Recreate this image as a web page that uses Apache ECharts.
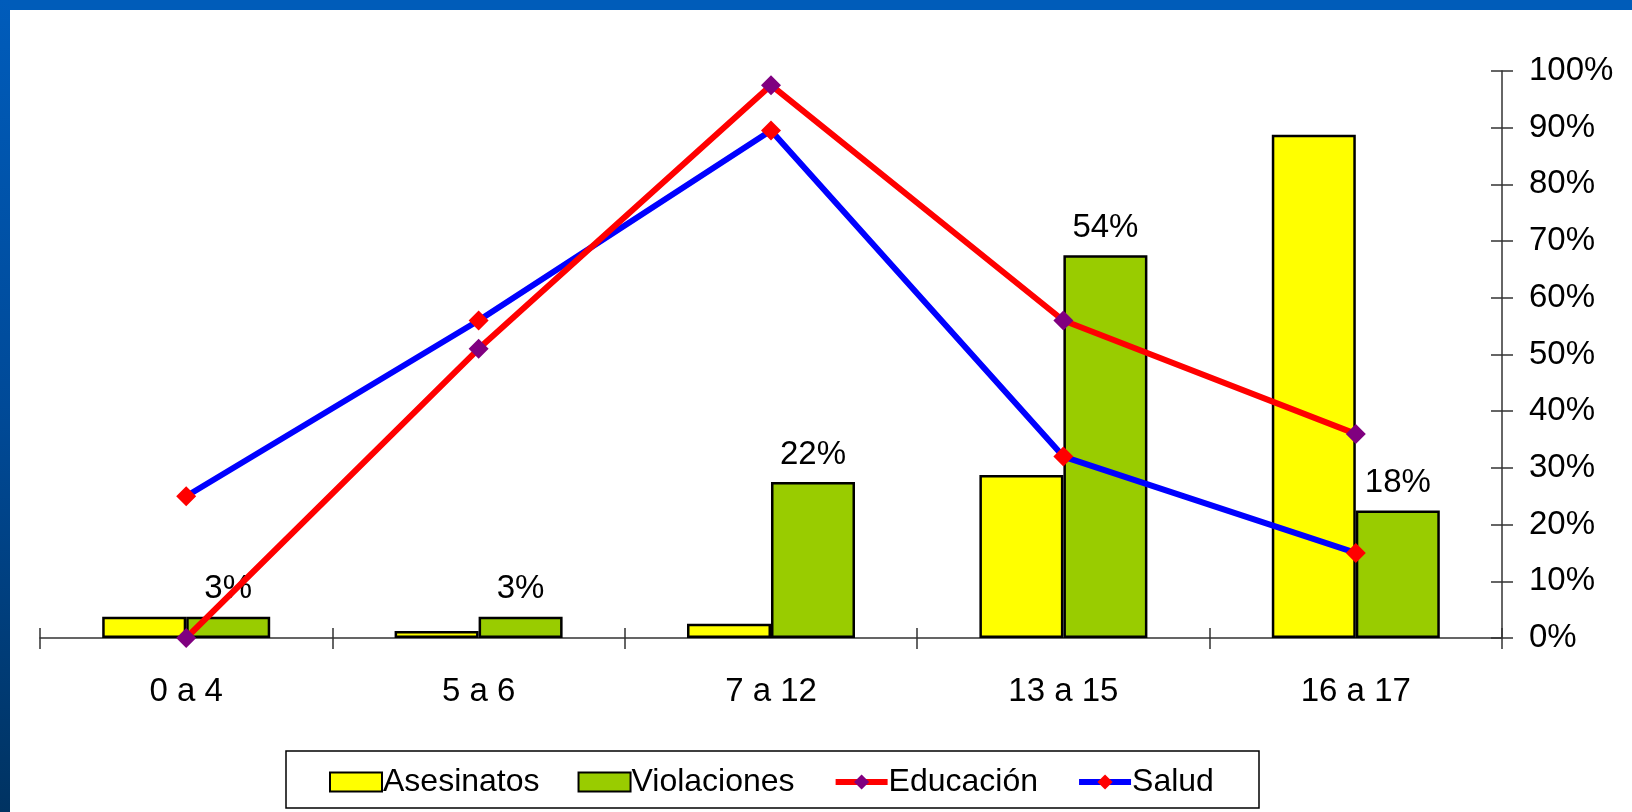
<!DOCTYPE html>
<html>
<head>
<meta charset="utf-8">
<script src="https://cdn.jsdelivr.net/npm/echarts@6/dist/echarts.min.js"></script>
<style>
  html, body { margin: 0; padding: 0; width: 1632px; height: 812px; background: #ffffff; overflow: hidden; }
  #topband { position: absolute; left: 0; top: 0; width: 1632px; height: 10px; background: #005cb9; }
  #leftband { position: absolute; left: 0; top: 0; width: 10px; height: 812px; background: linear-gradient(to bottom, #005cbb 0%, #004a98 50%, #003362 100%); }
  #chart { position: absolute; left: 0; top: 0; width: 1632px; height: 812px; }
</style>
</head>
<body>
<div id="topband"></div>
<div id="leftband"></div>
<div id="chart"></div>
<script>
// ---- data ----
const categories = ['0 a 4', '5 a 6', '7 a 12', '13 a 15', '16 a 17'];
const asesinatos = [3, 1, 2, 23, 71];
const violaciones = [3, 3, 22, 54, 18];
const educacion = [0, 51, 97.5, 56, 36];
const salud = [25, 56, 89.5, 32, 15];
const percentTicks = [0, 10, 20, 30, 40, 50, 60, 70, 80, 90, 100];

const FONT = "'Liberation Sans', Arial, sans-serif";
const axisColor = '#333333';

const chart = echarts.init(document.getElementById('chart'), null, { renderer: 'canvas' });

const option = {
  backgroundColor: 'transparent',
  animation: false,
  textStyle: { fontFamily: FONT, color: '#000' },
  grid: { left: 40, right: 130, top: 71, bottom: 174, containLabel: false },
  graphic: [{
    type: 'rect',
    shape: { x: 286, y: 751, width: 973, height: 57 },
    style: { fill: '#ffffff', stroke: '#000000', lineWidth: 1.5 },
    z: 0
  }],
  legend: {
    left: 329,
    top: 766,
    padding: 0,
    itemWidth: 52,
    itemHeight: 19,
    itemGap: 38,
    textStyle: { fontFamily: FONT, fontSize: 32, color: '#000', padding: [0, 0, 0, -4] },
    data: [
      { name: 'Asesinatos', icon: 'rect', itemStyle: { color: '#ffff00', borderColor: '#000', borderWidth: 2 } },
      { name: 'Violaciones', icon: 'rect', itemStyle: { color: '#99cc00', borderColor: '#000', borderWidth: 2 } },
      { name: 'Educación', lineStyle: { color: '#ff0000', width: 6 }, itemStyle: { color: '#800080' } },
      { name: 'Salud', lineStyle: { color: '#0000ff', width: 6 }, itemStyle: { color: '#ff0000' } }
    ]
  },
  xAxis: [
    {
      type: 'category',
      data: categories,
      position: 'bottom',
      axisLine: { show: true, lineStyle: { color: axisColor, width: 1.5 } },
      axisTick: { show: true, inside: false, length: 11, lineStyle: { color: axisColor, width: 1.5 } },
      axisLabel: { show: true, fontSize: 33, fontFamily: FONT, color: '#000', margin: 37 },
      splitLine: { show: false }
    },
    {
      type: 'category',
      data: categories,
      position: 'bottom',
      gridIndex: 0,
      axisLine: { show: false },
      axisTick: { show: true, inside: true, length: 10, lineStyle: { color: axisColor, width: 1.5 } },
      axisLabel: { show: false },
      splitLine: { show: false }
    }
  ],
  yAxis: [
    {
      type: 'value', min: 0, max: 80, show: false, splitLine: { show: false }
    },
    {
      type: 'value', position: 'right', min: 0, max: 100, interval: 10,
      axisLine: { show: true, lineStyle: { color: axisColor, width: 1.5 } },
      axisTick: { show: true, inside: false, length: 11, lineStyle: { color: axisColor, width: 1.5 } },
      axisLabel: {
        fontSize: 33, fontFamily: FONT, color: '#000', margin: 27,
        formatter: function (v) { return percentTicks.indexOf(v) >= 0 ? v + '%' : ''; }
      },
      splitLine: { show: false }
    },
    {
      type: 'value', position: 'right', min: 0, max: 100, interval: 10,
      axisLine: { show: false },
      axisTick: { show: true, inside: true, length: 11, lineStyle: { color: axisColor, width: 1.5 } },
      axisLabel: { show: false },
      splitLine: { show: false }
    }
  ],
  series: [
    {
      name: 'Asesinatos', type: 'bar', xAxisIndex: 0, yAxisIndex: 0,
      data: asesinatos, barWidth: 84, barGap: '0%',
      itemStyle: { color: '#ffff00', borderColor: '#000', borderWidth: 2.5 },
      z: 2
    },
    {
      name: 'Violaciones', type: 'bar', xAxisIndex: 0, yAxisIndex: 0,
      data: violaciones, barWidth: 84, barGap: '0%',
      itemStyle: { color: '#99cc00', borderColor: '#000', borderWidth: 2.5 },
      label: {
        show: true, position: 'top', distance: 11,
        formatter: '{c}%', fontSize: 33, fontFamily: FONT, color: '#000'
      },
      z: 2
    },
    {
      name: 'Educación', type: 'line', xAxisIndex: 0, yAxisIndex: 1,
      data: educacion,
      symbol: 'diamond', symbolSize: 20, showSymbol: true,
      lineStyle: { color: '#ff0000', width: 6 },
      itemStyle: { color: '#800080' },
      z: 5
    },
    {
      name: 'Salud', type: 'line', xAxisIndex: 0, yAxisIndex: 1,
      data: salud,
      symbol: 'diamond', symbolSize: 20, showSymbol: true,
      lineStyle: { color: '#0000ff', width: 6 },
      itemStyle: { color: '#ff0000' },
      z: 4
    }
  ]
};

chart.setOption(option);
</script>
</body>
</html>
